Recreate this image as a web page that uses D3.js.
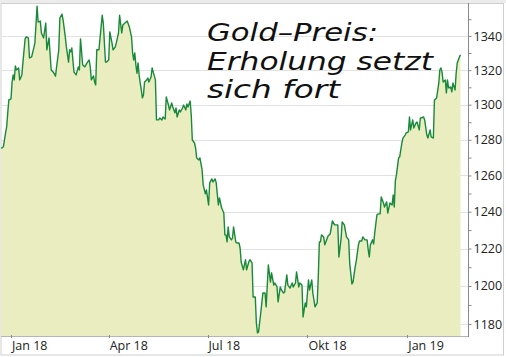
<!DOCTYPE html>
<html>
<head>
<meta charset="utf-8">
<script src="https://cdn.jsdelivr.net/npm/d3@7"></script>
<style>
  html, body { margin: 0; padding: 0; background: #fff; }
  svg { display: block; }
</style>
</head>
<body>
<svg id="chart" width="506" height="357"></svg>
<script>
const dates = [
"2017-12-23","2017-12-25","2017-12-27","2017-12-28","2017-12-29","2017-12-30",
"2018-01-01","2018-01-02","2018-01-03","2018-01-04","2018-01-05","2018-01-06","2018-01-08","2018-01-09","2018-01-11","2018-01-12","2018-01-14","2018-01-15","2018-01-17","2018-01-18","2018-01-20","2018-01-22","2018-01-23","2018-01-25","2018-01-26","2018-01-28","2018-01-29","2018-01-31",
"2018-02-02","2018-02-03","2018-02-05","2018-02-07","2018-02-09","2018-02-11","2018-02-12","2018-02-14","2018-02-15","2018-02-17","2018-02-18","2018-02-20","2018-02-21","2018-02-23","2018-02-24","2018-02-25","2018-02-26","2018-02-28",
"2018-03-02","2018-03-04","2018-03-05","2018-03-06","2018-03-08","2018-03-10","2018-03-12","2018-03-14","2018-03-15","2018-03-16","2018-03-18","2018-03-19","2018-03-20","2018-03-21","2018-03-23","2018-03-26","2018-03-27","2018-03-29","2018-03-30",
"2018-04-01","2018-04-02","2018-04-04","2018-04-05","2018-04-07","2018-04-08","2018-04-10","2018-04-11","2018-04-13","2018-04-14","2018-04-16","2018-04-18","2018-04-20","2018-04-22","2018-04-23","2018-04-24","2018-04-25","2018-04-26","2018-04-27","2018-04-28","2018-04-29","2018-04-30",
"2018-05-01","2018-05-02","2018-05-03","2018-05-04","2018-05-06","2018-05-07","2018-05-08","2018-05-10","2018-05-11","2018-05-12","2018-05-14","2018-05-15","2018-05-17","2018-05-18","2018-05-20","2018-05-21","2018-05-23","2018-05-24","2018-05-26","2018-05-27","2018-05-29","2018-05-30",
"2018-06-01","2018-06-02","2018-06-03","2018-06-05","2018-06-06","2018-06-08","2018-06-09","2018-06-11","2018-06-12","2018-06-13","2018-06-15","2018-06-16","2018-06-17","2018-06-19","2018-06-20","2018-06-21","2018-06-23","2018-06-24","2018-06-26","2018-06-27","2018-06-29","2018-06-30",
"2018-07-02","2018-07-03","2018-07-05","2018-07-06","2018-07-08","2018-07-09","2018-07-11","2018-07-12","2018-07-14","2018-07-16","2018-07-17","2018-07-18","2018-07-19","2018-07-20","2018-07-21","2018-07-23","2018-07-24","2018-07-25","2018-07-27","2018-07-28","2018-07-30","2018-07-31",
"2018-08-01","2018-08-03","2018-08-05","2018-08-06","2018-08-08","2018-08-09","2018-08-11","2018-08-12","2018-08-14","2018-08-15","2018-08-16","2018-08-17","2018-08-19","2018-08-20","2018-08-21","2018-08-23","2018-08-24","2018-08-26","2018-08-28","2018-08-29","2018-08-31",
"2018-09-01","2018-09-03","2018-09-04","2018-09-06","2018-09-07","2018-09-09","2018-09-10","2018-09-12","2018-09-13","2018-09-15","2018-09-17","2018-09-18","2018-09-20","2018-09-21","2018-09-23","2018-09-24","2018-09-26","2018-09-27","2018-09-29","2018-09-30",
"2018-10-02","2018-10-03","2018-10-05","2018-10-06","2018-10-08","2018-10-10","2018-10-11","2018-10-12","2018-10-13","2018-10-14","2018-10-16","2018-10-17","2018-10-19","2018-10-20","2018-10-22","2018-10-24","2018-10-26","2018-10-29","2018-10-30",
"2018-11-01","2018-11-02","2018-11-04","2018-11-06","2018-11-08","2018-11-09","2018-11-11","2018-11-12","2018-11-14","2018-11-15","2018-11-17","2018-11-18","2018-11-20","2018-11-21","2018-11-23","2018-11-25","2018-11-26","2018-11-27","2018-11-28","2018-11-30",
"2018-12-01","2018-12-02","2018-12-04","2018-12-05","2018-12-07","2018-12-08","2018-12-10","2018-12-11","2018-12-13","2018-12-14","2018-12-16","2018-12-18","2018-12-19","2018-12-20","2018-12-21","2018-12-22","2018-12-24","2018-12-25","2018-12-27","2018-12-28","2018-12-30","2018-12-31",
"2019-01-02","2019-01-03","2019-01-04","2019-01-06","2019-01-07","2019-01-09","2019-01-10","2019-01-12","2019-01-13","2019-01-14","2019-01-16","2019-01-17","2019-01-19","2019-01-20","2019-01-22","2019-01-23","2019-01-25","2019-01-26","2019-01-28","2019-01-30","2019-01-31",
"2019-02-01","2019-02-02","2019-02-03","2019-02-05","2019-02-06","2019-02-07","2019-02-08","2019-02-10","2019-02-11","2019-02-12","2019-02-14","2019-02-15","2019-02-16","2019-02-18","2019-02-19"
];

const prices = [
1275.2,1276.1,1283.9,1287.3,1295.3,1302.7,
1303.3,1313.1,1317.2,1314.3,1322.4,1320.1,1321.3,1314.3,1317.2,1324.7,1338.3,1339.5,1338.9,1327.1,1327.7,1333.0,1336.0,1357.8,1348.3,1348.9,1341.8,1338.9,
1347.7,1331.9,1338.9,1320.1,1318.8,1316.5,1321.9,1331.9,1350.7,1353.0,1349.5,1339.5,1333.6,1324.7,1331.9,1330.7,1333.0,1318.8,
1317.2,1321.9,1320.1,1338.3,1323.0,1321.9,1324.2,1325.9,1321.9,1314.3,1316.6,1313.1,1311.4,1331.9,1331.9,1352.4,1347.7,1324.7,1324.7,
1325.9,1342.4,1336.0,1331.9,1333.5,1336.0,1341.8,1352.4,1341.8,1346.5,1347.7,1348.9,1345.4,1339.5,1330.1,1325.9,1330.1,1323.0,1318.2,1324.2,1317.2,1312.5,
1308.5,1303.9,1305.6,1313.1,1314.3,1315.4,1313.1,1316.0,1321.3,1318.8,1314.3,1291.3,1291.3,1292.4,1291.3,1293.0,1291.8,1304.5,1299.8,1297.0,1301.0,1298.7,
1295.3,1298.1,1293.0,1297.0,1295.8,1298.1,1299.8,1297.0,1300.4,1298.7,1302.1,1294.2,1279.9,1278.2,1275.5,1269.8,1268.7,1269.8,1263.1,1254.8,1249.8,1252.0,
1243.7,1255.9,1258.1,1256.4,1258.1,1255.9,1243.7,1247.6,1242.0,1239.3,1227.4,1227.4,1223.6,1231.7,1226.3,1224.7,1225.7,1231.7,1223.6,1223.0,1223.0,1220.3,
1212.8,1208.6,1214.0,1208.6,1212.8,1214.0,1212.3,1194.2,1194.2,1180.6,1175.4,1175.9,1185.8,1191.1,1196.3,1196.3,1189.0,1211.2,1202.1,1207.0,1200.5,
1201.6,1199.5,1191.6,1199.5,1197.9,1196.3,1196.8,1205.9,1200.5,1198.9,1201.6,1199.5,1201.6,1207.5,1199.5,1201.6,1200.5,1183.7,1191.1,1189.0,
1203.2,1197.9,1203.2,1196.3,1189.0,1191.1,1204.8,1223.6,1223.6,1227.4,1226.3,1222.0,1225.2,1226.8,1227.9,1235.0,1232.8,1232.8,1215.5,
1225.2,1234.4,1232.8,1226.3,1224.7,1211.8,1201.1,1202.1,1210.2,1213.4,1222.0,1224.1,1224.1,1226.3,1224.7,1224.7,1219.3,1215.5,1222.0,1224.7,
1222.5,1228.5,1238.2,1238.8,1238.8,1248.1,1244.8,1242.6,1245.4,1239.3,1244.8,1243.7,1249.2,1242.6,1257.0,1260.3,1269.8,1270.4,1278.2,1281.0,1282.7,1283.9,
1284.5,1293.0,1285.6,1291.3,1286.7,1289.5,1290.1,1285.6,1292.4,1292.4,1293.0,1291.3,1282.7,1281.0,1285.6,1281.6,1281.0,1302.7,1303.9,1312.5,1320.2,
1321.3,1318.8,1313.1,1314.3,1306.8,1314.3,1309.7,1310.2,1307.4,1312.5,1308.5,1318.2,1324.2,1327.7,1328.9
];

const xTickDates = ["2018-01-01","2018-04-01","2018-07-01","2018-10-01","2019-01-01"];
const xTickLabels = ["Jan 18","Apr 18","Jul 18","Okt 18","Jan 19"];
const yTickValues = [1180,1200,1220,1240,1260,1280,1300,1320,1340];
const yMinorTicks = [1180,1190,1200,1210,1220,1230,1240,1250,1260,1270,1280,1290,1300,1310,1320,1330,1340,1350];
const titleLines = ["Gold\u2013Preis:", "Erholung setzt", "sich fort"];

const W = 506, H = 357;
const plot = { left: 1.5, right: 468, top: 3, bottom: 336 };
const parse = d3.utcParse("%Y-%m-%d");
const data = dates.map((d, i) => ({ date: parse(d), value: prices[i] }));

const svg = d3.select("#chart");

const x = d3.scaleUtc()
  .domain([parse("2017-12-23"), parse("2019-02-26")])
  .range([1.23, 468.1]);
const y = d3.scaleLog()
  .domain([1173.8, 1359.7])
  .range([plot.bottom, plot.top]);

// outer frame
svg.append("rect").attr("x", 0).attr("y", 0).attr("width", W).attr("height", 3)
  .attr("fill", "#ececec");
svg.append("rect").attr("x", 1).attr("y", 3.5).attr("width", 502.5).attr("height", 351.5)
  .attr("fill", "none").attr("stroke", "#cfcfcf").attr("stroke-width", 1);

// gridlines
svg.append("g").selectAll("line").data(yTickValues).join("line")
  .attr("x1", plot.left).attr("x2", plot.right)
  .attr("y1", d => Math.round(y(d)) + 0.5).attr("y2", d => Math.round(y(d)) + 0.5)
  .attr("stroke", "#e2e2e2").attr("stroke-width", 1);

// area
const area = d3.area()
  .x(d => x(d.date))
  .y0(plot.bottom)
  .y1(d => y(d.value));
svg.append("path").datum(data).attr("d", area).attr("fill", "#eaedc0");

const line = d3.line().x(d => x(d.date)).y(d => y(d.value));
svg.append("path").datum(data).attr("d", line)
  .attr("fill", "none").attr("stroke", "#18893a").attr("stroke-width", 1.4)
  .attr("stroke-linejoin", "round");

// x axis
svg.append("line").attr("x1", 1).attr("x2", plot.right).attr("y1", plot.bottom + 0.5).attr("y2", plot.bottom + 0.5)
  .attr("stroke", "#b5b5b5");
const xg = svg.append("g");
xg.selectAll("line").data(xTickDates).join("line")
  .attr("x1", d => Math.round(x(parse(d))) + 0.5).attr("x2", d => Math.round(x(parse(d))) + 0.5)
  .attr("y1", plot.bottom - 1).attr("y2", plot.bottom + 2)
  .attr("stroke", "#8a8a8a");
xg.selectAll("text").data(xTickDates).join("text")
  .attr("x", d => x(parse(d)) + 1)
  .attr("y", 350)
  .attr("font-family", "'Open Sans', 'Noto Sans', sans-serif")
  .attr("font-size", 12.5)
  .attr("fill", "#222")
  .text((d, i) => xTickLabels[i]);

// y axis (right)
const yAxis = d3.axisRight(y)
  .tickValues(yMinorTicks)
  .tickSize(3)
  .tickPadding(2)
  .tickFormat(d => yTickValues.includes(d) ? String(d) : "");
const yg = svg.append("g").attr("transform", `translate(${plot.right + 0.5},0)`).call(yAxis);
yg.select(".domain").attr("stroke", "#8a8a8a").attr("d", `M0,${plot.top}V${plot.bottom + 1}`);
yg.selectAll(".tick line").attr("stroke", "#8a8a8a");
yg.selectAll(".tick text")
  .attr("font-family", "'Open Sans', 'Noto Sans', sans-serif")
  .attr("font-size", 12.5)
  .attr("fill", "#222");

// title (handwriting-like look)
const title = svg.append("g");
const titleY = [41, 69.5, 98];
const titleWidths = [171, 226, 133];
title.selectAll("text").data(titleLines).join("text")
  .attr("x", 207)
  .attr("y", (d, i) => titleY[i])
  .attr("font-family", "'DejaVu Sans', sans-serif")
  .attr("font-style", "italic")
  .attr("font-size", 24)
  .attr("textLength", (d, i) => titleWidths[i])
  .attr("lengthAdjust", "spacingAndGlyphs")
  .attr("fill", "#111")
  .text(d => d);
</script>
</body>
</html>
